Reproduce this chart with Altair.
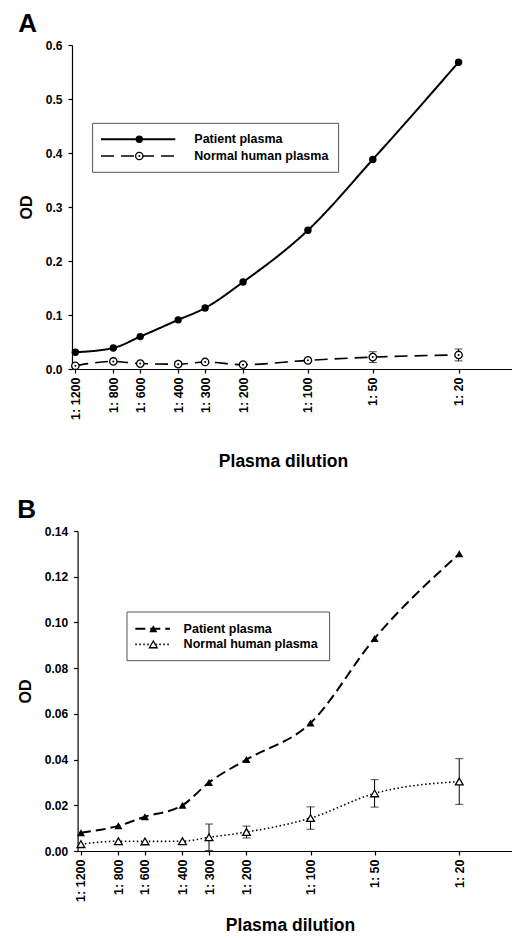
import altair as alt
import pandas as pd

# ---------------- data ----------------
dilution = [1200, 800, 600, 400, 300, 200, 100, 50, 20]

a_patient = [0.031, 0.039, 0.060, 0.091, 0.113, 0.161, 0.257, 0.388, 0.568]
a_normal = [0.006, 0.014, 0.010, 0.009, 0.013, 0.008, 0.016, 0.022, 0.026]
a_normal_err = [None, None, None, None, None, None, None, 0.010, 0.011]

b_patient = [0.008, 0.011, 0.015, 0.020, 0.030, 0.040, 0.056, 0.093, 0.130]
b_normal = [0.003, 0.0043, 0.0042, 0.0043, 0.006, 0.0083, 0.0144, 0.0252, 0.0304]
b_normal_err = [None, None, None, None, 0.0058, 0.0026, 0.0049, 0.006, 0.010]

series_names = ["Patient plasma", "Normal human plasma"]
a_yticks = [0.0, 0.1, 0.2, 0.3, 0.4, 0.5, 0.6]
b_yticks = [0.0, 0.02, 0.04, 0.06, 0.08, 0.10, 0.12, 0.14]

FONT = "Liberation Sans"
X_DOMAIN = [11.3, 1244]


def panel(letter, patient, normal, err, yticks, yfmt, width, height, x_off,
          patient_dash, normal_dash, shape_p, size_p, shape_n, size_n,
          dot_center, leg, xtitle_x, xtitle_pad, title_offset):
    df = pd.DataFrame({"dil": dilution, "patient": patient, "normal": normal, "err": err})
    edf = df.dropna(subset=["err"]).copy()
    edf["lo"] = edf["normal"] - edf["err"]
    edf["hi"] = edf["normal"] + edf["err"]

    xscale = alt.Scale(type="log", domain=X_DOMAIN, reverse=True, range=[x_off, width])
    x = alt.X("dil:Q", scale=xscale,
              axis=alt.Axis(values=dilution, labelExpr="'1: ' + datum.value",
                            labelAngle=270, labelAlign="right", labelBaseline="middle",
                            labelOverlap=False, labelFlush=False, labelBound=False,
                            labelPadding=4, tickSize=4, grid=False, labelFontSize=12.5,
                            title="Plasma dilution", titleFontSize=17.5,
                            titleX=xtitle_x, titlePadding=xtitle_pad))
    yscale = alt.Scale(domain=[yticks[0], yticks[-1]], nice=False, zero=False)
    yaxis = alt.Axis(values=yticks, format=yfmt, title="OD", titleFontSize=16,
                     titlePadding=11, labelPadding=6, tickSize=4, grid=False,
                     offset=-x_off)

    base = alt.Chart(df)
    line_p = base.mark_line(interpolate="monotone", color="black", strokeWidth=2,
                            strokeDash=patient_dash).encode(
        x=x, y=alt.Y("patient:Q", scale=yscale, axis=yaxis))
    line_n = base.mark_line(interpolate="monotone", color="black", strokeWidth=1.6,
                            strokeDash=normal_dash).encode(
        x=x, y=alt.Y("normal:Q", scale=yscale, axis=yaxis))

    ebase = alt.Chart(edf)
    err_rule = ebase.mark_rule(color="black", strokeWidth=1).encode(
        x=x, y=alt.Y("lo:Q", scale=yscale, axis=yaxis), y2="hi:Q")
    cap_lo = ebase.mark_point(shape="M-1,0H1", size=64, color="black", strokeWidth=1,
                              filled=False).encode(x=x, y=alt.Y("lo:Q", scale=yscale, axis=yaxis))
    cap_hi = ebase.mark_point(shape="M-1,0H1", size=64, color="black", strokeWidth=1,
                              filled=False).encode(x=x, y=alt.Y("hi:Q", scale=yscale, axis=yaxis))

    pts_p = base.mark_point(shape=shape_p, size=size_p, filled=True, color="black",
                            opacity=1).encode(x=x, y=alt.Y("patient:Q", scale=yscale, axis=yaxis))
    pts_n = base.mark_point(shape=shape_n, size=size_n, fill="white", stroke="black",
                            strokeWidth=1.3, filled=False, fillOpacity=1, opacity=1).encode(
        x=x, y=alt.Y("normal:Q", scale=yscale, axis=yaxis))
    layers = [line_p, line_n, err_rule, cap_lo, cap_hi, pts_p, pts_n]
    if dot_center:
        dots = base.mark_point(shape="circle", size=4, filled=True, color="black",
                               opacity=1).encode(x=x, y=alt.Y("normal:Q", scale=yscale, axis=yaxis))
        layers.append(dots)

    # ---- legend box (decoration), pixel positions relative to the y axis ----
    bx1, bx2, by1, by2, lx1, lx2, mx, ty1, ty2, tx = leg
    bx1, bx2, lx1, lx2, mx, tx = [v + x_off for v in (bx1, bx2, lx1, lx2, mx, tx)]
    one = pd.DataFrame({"k": [0]})
    box = alt.Chart(one).mark_rect(fill="white", stroke="#555555", strokeWidth=1).encode(
        x=alt.value(bx1), x2=alt.value(bx2), y=alt.value(by1), y2=alt.value(by2))
    layers.append(box)
    for i, (ty, dash, name) in enumerate([(ty1, patient_dash, series_names[0]),
                                          (ty2, normal_dash, series_names[1])]):
        seg = alt.Chart(one).mark_rule(color="black", strokeWidth=2 if i == 0 else 1.6,
                                       strokeDash=dash).encode(
            x=alt.value(lx1), x2=alt.value(lx2), y=alt.value(ty))
        layers.append(seg)
        if i == 0:
            m = alt.Chart(one).mark_point(shape=shape_p, size=size_p, filled=True,
                                          color="black", opacity=1).encode(
                x=alt.value(mx), y=alt.value(ty))
            layers.append(m)
        else:
            m = alt.Chart(one).mark_point(shape=shape_n, size=size_n, fill="white",
                                          stroke="black", strokeWidth=1.3, filled=False,
                                          fillOpacity=1, opacity=1).encode(
                x=alt.value(mx), y=alt.value(ty))
            layers.append(m)
            if dot_center:
                d = alt.Chart(one).mark_point(shape="circle", size=4, filled=True,
                                              color="black", opacity=1).encode(
                    x=alt.value(mx), y=alt.value(ty))
                layers.append(d)
        lab = alt.Chart(pd.DataFrame({"label": [name]})).mark_text(
            align="left", baseline="middle", font=FONT, fontWeight="bold",
            fontSize=12.5, color="black").encode(
            x=alt.value(tx), y=alt.value(ty), text="label:N")
        layers.append(lab)

    return alt.layer(*layers).properties(
        width=width, height=height,
        title=alt.TitleParams(letter, anchor="start", frame="bounds", fontSize=26,
                              fontWeight="bold", font=FONT, color="black",
                              offset=title_offset))


panel_a = panel("A", a_patient, a_normal, a_normal_err, a_yticks, ".1f", 440, 324, 0,
                [1, 0], [13, 7], "circle", 55, "circle", 55, True,
                (20.6, 266.6, 78.3, 127.3, 29, 103.3, 67.3, 94.3, 111, 122.3),
                211, 33, 2)
panel_b = panel("B", b_patient, b_normal, b_normal_err, b_yticks, ".2f", 440, 320, 5.6,
                [10, 5], [1.5, 2.5], "triangle-up", 65, "triangle-up", 60, False,
                (49.4, 252, 81, 129.7, 57.7, 92.4, 75.7, 97.7, 113.4, 106),
                218, 15, 2)

chart = alt.vconcat(panel_a, panel_b, spacing=27).properties(
    padding={"left": 9, "top": 3, "right": 0, "bottom": 0},
    background="white"
).configure_view(stroke=None).configure_axis(
    grid=False, domainColor="black", tickColor="black", labelColor="black",
    titleColor="black", labelFont=FONT, titleFont=FONT, labelFontWeight="bold",
    titleFontWeight="bold", labelFontSize=12, domainWidth=1.2, tickWidth=1.2
)

chart.save("out.html", embed_options={"renderer": "svg", "actions": False})
